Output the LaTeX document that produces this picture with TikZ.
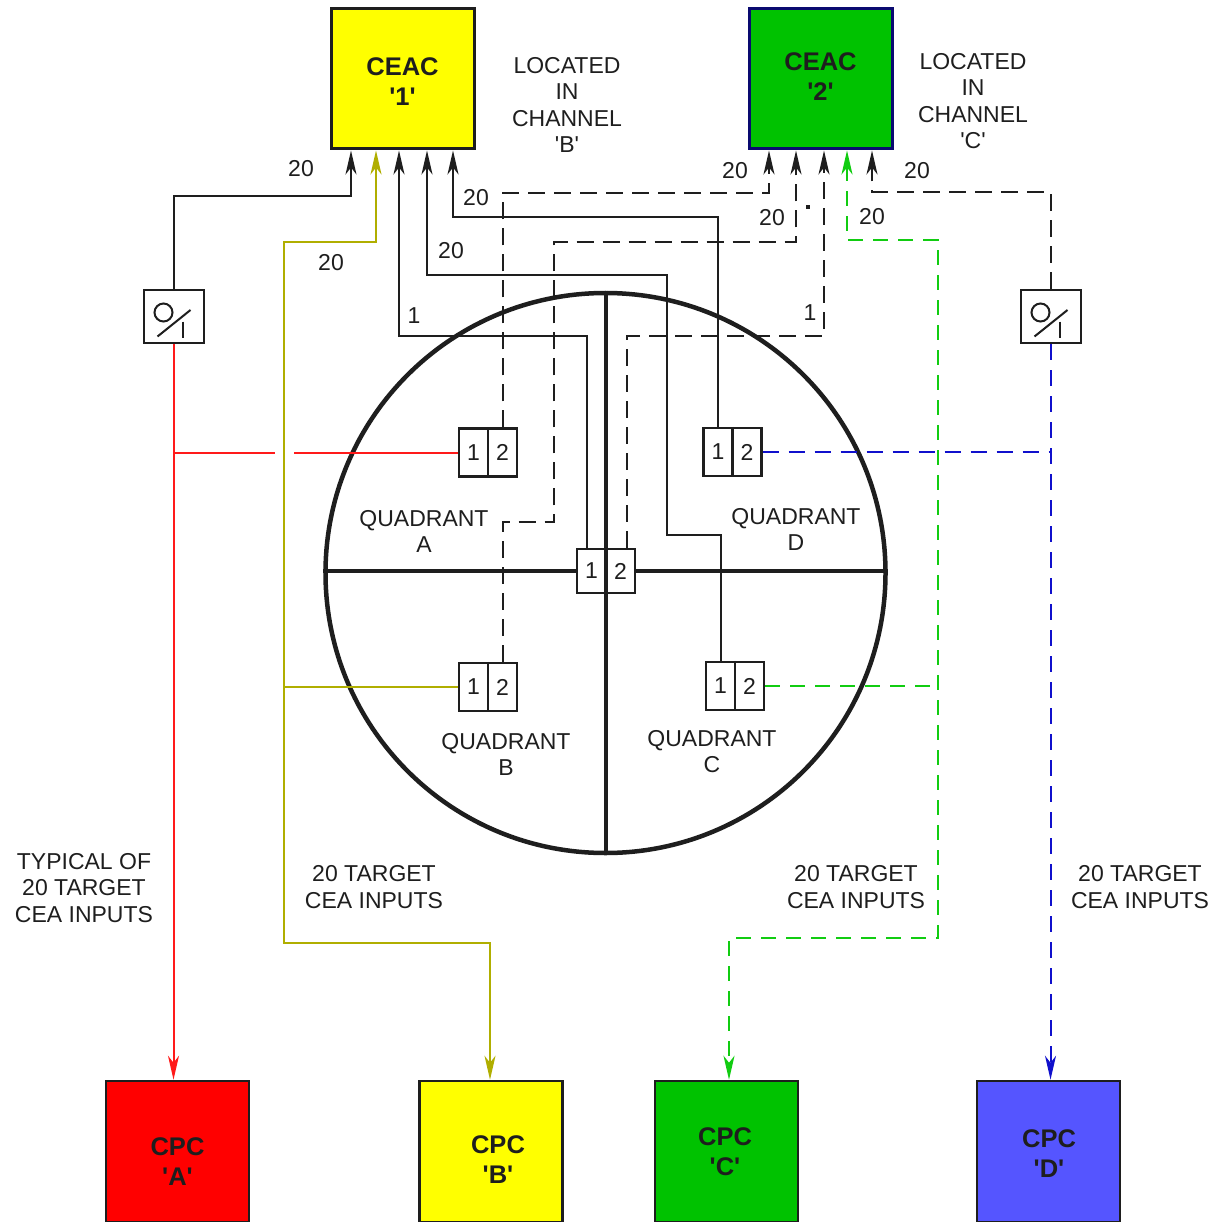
\documentclass[tikz,border=0pt]{standalone}
\usepackage{fontspec}
\setmainfont{Liberation Sans}
\usetikzlibrary{arrows.meta,calc}
\definecolor{cyellow}{HTML}{FFFF00}
\definecolor{cgreen}{HTML}{00C200}
\definecolor{cnavy}{HTML}{0A0A70}
\definecolor{cred}{HTML}{FF0000}
\definecolor{cblue}{HTML}{5555FF}
\definecolor{colive}{HTML}{B0AE00}
\definecolor{lgreen}{HTML}{11CC11}
\definecolor{lblue}{HTML}{1010CC}
\definecolor{lred}{HTML}{FF1A1A}
\definecolor{ink}{HTML}{1E1E1E}
\newcommand{\myq}{\textquotesingle}
\tikzset{
  arr/.style={-{Stealth[length=24pt,width=11pt,inset=7pt]}},
  arrboth/.style={{Stealth[length=24pt,width=11pt,inset=7pt]}-{Stealth[length=24pt,width=11pt,inset=7pt]}},
  ceacbox/.style={draw=ink, line width=3pt, minimum width=143pt, minimum height=140pt, inner sep=0pt},
  cpcbox/.style={draw=ink, line width=2.5pt, minimum width=143pt, minimum height=141pt, inner sep=0pt},
  boldtxt/.style={font=\fontsize{25.5}{30}\selectfont\bfseries, align=center, text=ink, inner sep=0pt},
  cell/.style={draw=ink, line width=2.2pt, fill=white, minimum width=58pt, minimum height=48pt, inner sep=0pt},
  cellline/.style={draw=ink, line width=2.2pt},
  digit/.style={font=\fontsize{23}{27}\selectfont, text=ink, inner sep=0pt},
  lbl/.style={font=\fontsize{23}{26.6}\selectfont, align=center, text=ink, inner sep=0pt},
  iso/.style={draw=ink, line width=2pt, fill=white, minimum width=60pt, minimum height=53pt, inner sep=0pt},
  symline/.style={draw=ink, line width=2pt},
  wire/.style={draw=ink, line width=2pt},
  dwire/.style={wire, dash pattern=on 17pt off 9pt},
  olivewire/.style={draw=colive, line width=2pt},
  gwire/.style={draw=lgreen, line width=2pt, dash pattern=on 15pt off 10pt},
  bwire/.style={draw=lblue, line width=2pt, dash pattern=on 16pt off 10pt},
  rwire/.style={draw=lred, line width=2pt},
  disc/.style={circle, draw=ink, line width=4.5pt, minimum size=560pt, inner sep=0pt},
  crossline/.style={draw=ink, line width=4pt}
}
\newcommand{\twobox}[3]{%
  \node[cell] (#1) at (#2,#3) {};
  \draw[cellline] (#1.north) -- (#1.south);
  \node[digit] (#1a) at ($(#1.center)+(-14.5,0)$) {1};
  \node[digit] (#1b) at ($(#1.center)+(14.5,0)$) {2};
}
\begin{document}
\begin{tikzpicture}[x=1pt,y=-1pt]
\useasboundingbox (0,0) rectangle (1220,1222);

% CEAC boxes
\node[ceacbox, fill=cyellow] (ceac1) at (402.5,79) {};
\node[ceacbox, fill=cgreen, draw=cnavy] (ceac2) at (820.5,79) {};
\node[boldtxt] (ceac1t) at (402.5,82) {CEAC\\\myq 1\myq};
\node[boldtxt] (ceac2t) at (820.5,77) {CEAC\\\myq 2\myq};
\node[lbl] (locB) at (567,105) {LOCATED\\IN\\CHANNEL\\\myq B\myq};
\node[lbl] (locC) at (973,101) {LOCATED\\IN\\CHANNEL\\\myq C\myq};

% CPC boxes
\node[cpcbox, fill=cred] (cpcA) at (177.5,1151.5) {};
\node[cpcbox, fill=cyellow] (cpcB) at (491,1151.5) {};
\node[cpcbox, fill=cgreen] (cpcC) at (726.5,1151.5) {};
\node[cpcbox, fill=cblue] (cpcD) at (1048.5,1151.5) {};
\node[boldtxt] (cpcAt) at (177.5,1161.5) {CPC\\\myq A\myq};
\node[boldtxt] (cpcBt) at (498,1160) {CPC\\\myq B\myq};
\node[boldtxt] (cpcCt) at (725,1152) {CPC\\\myq C\myq};
\node[boldtxt] (cpcDt) at (1049,1153.5) {CPC\\\myq D\myq};

% isolators
\node[iso] (isoA) at (173.5,316.5) {};
\node[iso] (isoD) at (1050.5,316.5) {};
\foreach \i in {isoA,isoD} {
  \draw[symline] ($(\i.center)+(-10,-4)$) circle[radius=9pt];
  \draw[symline] ($(\i.center)+(-16,20)$) -- ($(\i.center)+(17,-6.5)$);
  \draw[symline] ($(\i.center)+(9,5)$) -- ($(\i.center)+(9,21)$);
}

% disc
\node[disc] (disc) at (605.5,573) {};

% quadrant boxes
\twobox{qA}{488}{452.5}
\twobox{qD}{732.5}{452}
\twobox{qB}{488}{687}
\twobox{qC}{735}{686}

% centre box and cross
\node[cell, minimum height=44pt] (qX) at (606,571) {};
\node[digit] (qXa) at ($(qX.center)+(-14.5,0)$) {1};
\node[digit] (qXb) at ($(qX.center)+(14.5,0)$) {2};
\draw[crossline] (disc.west |- qX.west) -- (qX.west);
\draw[crossline] (qX.east) -- (disc.east |- qX.east);
\draw[crossline] (disc.north) -- (disc.south);

% wires to CEAC 1
\draw[wire, arr] (isoA.north) |- (351,196) -- (351,0 |- ceac1.south);
\draw[olivewire, arrboth] (376,0 |- ceac1.south) |- (284,242) |- (490,943) -- (490,0 |- cpcB.north);
\draw[olivewire] (qB.west) -- (284,0 |- qB.west);
\draw[wire, arr] ($(qX.north)+(-19,0)$) |- (399,336) -- (399,0 |- ceac1.south);
\draw[wire, arr] (qCa |- qC.north) |- (667,535) |- (427,275) -- (427,0 |- ceac1.south);
\draw[wire, arr] (qDa |- qD.north) |- (453,217) -- (453,0 |- ceac1.south);

% wires to CEAC 2
\draw[dwire, arr] (qAb |- qA.north) |- (769,193) -- (769,0 |- ceac2.south);
\draw[dwire, arr] (qBb |- qB.north) |- (554,522) |- (796,242) -- (796,0 |- ceac2.south);
\draw[dwire, arr] ($(qX.north)+(21,0)$) |- (824,336) -- (824,0 |- ceac2.south);
\draw[gwire, arrboth] (847,0 |- ceac2.south) |- (938,240) |- (729,938) -- (729,0 |- cpcC.north);
\draw[gwire] (qC.east) -- (938,0 |- qC.east);
\draw[dwire, arr] (isoD.north) |- (872,192) -- (872,0 |- ceac2.south);
\node[fill=ink, inner sep=0pt, minimum size=4pt] (dot) at (808,207) {};

% red and blue
\draw[rwire, arr] (isoA.south) -- (isoA.south |- cpcA.north);
\draw[rwire] (isoA.south |- qA.west) -- (275,0 |- qA.west);
\draw[rwire] (294,0 |- qA.west) -- (qA.west);
\draw[bwire, arr] (isoD.south) -- (isoD.south |- cpcD.north);
\draw[bwire] (qD.east) -- (isoD.south |- qD.east);

% wire count labels
\node[lbl] (n1) at (301,169) {20};
\node[lbl] (n2) at (331,263) {20};
\node[lbl] (n3) at (414,316) {1};
\node[lbl] (n4) at (451,251) {20};
\node[lbl] (n5) at (476,198) {20};
\node[lbl] (n6) at (735,171) {20};
\node[lbl] (n7) at (772,218) {20};
\node[lbl] (n8) at (810,313) {1};
\node[lbl] (n9) at (872,217) {20};
\node[lbl] (n10) at (917,171) {20};

% quadrant labels
\node[lbl] (quA) at (424,531.5) {QUADRANT\\A};
\node[lbl] (quD) at (796,529.5) {QUADRANT\\D};
\node[lbl] (quB) at (506,754.5) {QUADRANT\\B};
\node[lbl] (quC) at (712,751.5) {QUADRANT\\C};

% input labels
\node[lbl] (typ) at (84,888) {TYPICAL OF\\20 TARGET\\CEA INPUTS};
\node[lbl] (inB) at (374,887) {20 TARGET\\CEA INPUTS};
\node[lbl] (inC) at (856,887) {20 TARGET\\CEA INPUTS};
\node[lbl] (inD) at (1140,887) {20 TARGET\\CEA INPUTS};
\end{tikzpicture}
\end{document}
